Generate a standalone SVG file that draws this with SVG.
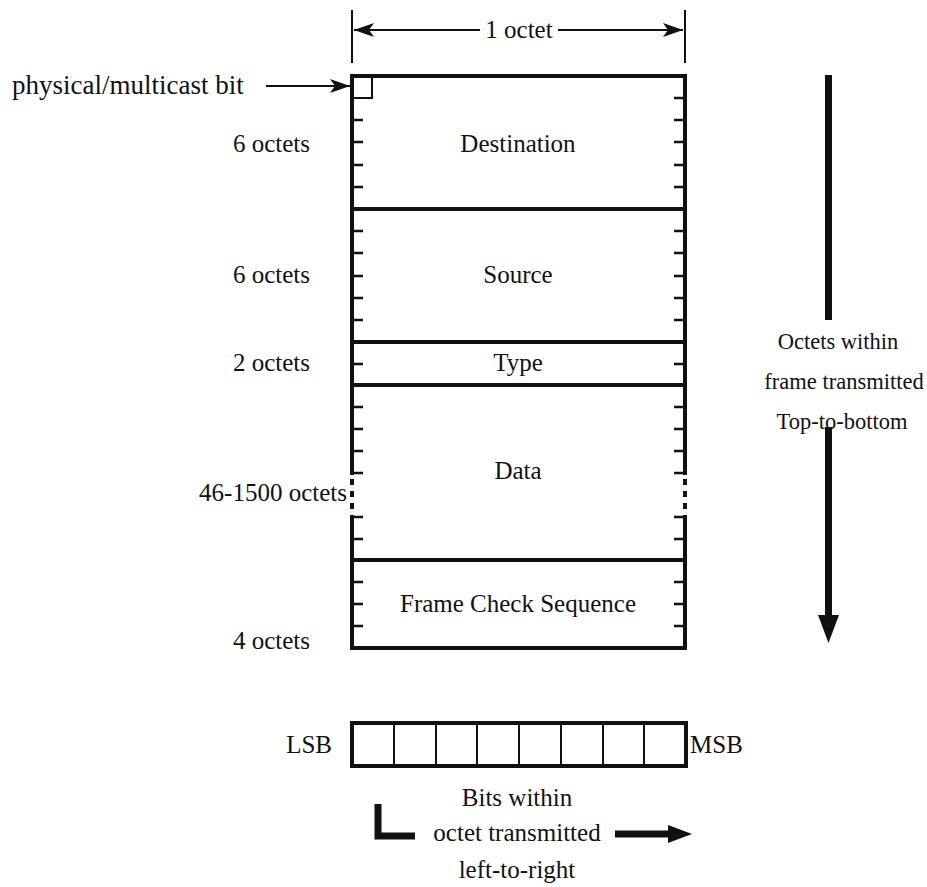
<svg xmlns="http://www.w3.org/2000/svg" width="927" height="887" viewBox="0 0 927 887">
<style>
text{font-family:"Liberation Serif","Times New Roman",serif;font-size:25px;fill:#111}
.side{font-size:22.5px}
.frame{fill:none;stroke:#111;stroke-width:4}
.sep{stroke:#111;stroke-width:4}
.tick{stroke:#111;stroke-width:2.5}
.thin{stroke:#111;stroke-width:2;fill:none}
.mid{text-anchor:middle}
.end{text-anchor:end}
</style>
<defs>
<marker id="ah" viewBox="0 0 20 14" refX="20" refY="7" markerWidth="20" markerHeight="14" markerUnits="userSpaceOnUse" orient="auto">
<path d="M0,0 L20,7 L0,14 L5,7 Z" fill="#111"/>
</marker>
</defs>
<rect width="927" height="887" fill="#fff"/>
<g id="dimension">
<line class="thin" x1="352" y1="10" x2="352" y2="63"/>
<line class="thin" x1="685" y1="10" x2="685" y2="63"/>
<line class="thin" x1="480" y1="30" x2="354" y2="30" marker-end="url(#ah)"/>
<line class="thin" x1="558" y1="30" x2="683" y2="30" marker-end="url(#ah)"/>
<text class="mid" x="519" y="38">1 octet</text>
</g>
<g id="connectors">
<line class="thin" x1="266" y1="86" x2="350" y2="86" marker-end="url(#ah)"/>
</g>
<g id="phys-label"><text x="12" y="94" style="font-size:27px">physical/multicast bit</text></g>
<g id="frame">
<rect class="frame" x="352" y="76" width="333" height="572"/>
</g>
<g id="destination">
<rect class="thin" x="352" y="76" width="20" height="22"/>
<path class="tick" d="M685,98h-11M352,120h11M685,120h-11M352,142h11M685,142h-11M352,165h11M685,165h-11M352,187h11M685,187h-11"/>
<text class="mid" x="518" y="152">Destination</text>
<text class="end" x="310" y="152">6 octets</text>
</g>
<g id="source">
<line class="sep" x1="352" y1="209" x2="685" y2="209"/>
<path class="tick" d="M352,231h11M685,231h-11M352,253h11M685,253h-11M352,276h11M685,276h-11M352,298h11M685,298h-11M352,320h11M685,320h-11"/>
<text class="mid" x="518" y="283">Source</text>
<text class="end" x="310" y="283">6 octets</text>
</g>
<g id="type">
<line class="sep" x1="352" y1="342" x2="685" y2="342"/>
<path class="tick" d="M352,364h11M685,364h-11"/>
<text class="mid" x="518" y="371">Type</text>
<text class="end" x="310" y="371">2 octets</text>
</g>
<g id="data">
<line class="sep" x1="352" y1="385" x2="685" y2="385"/>
<path class="tick" d="M352,407h11M685,407h-11M352,429h11M685,429h-11M352,451h11M685,451h-11M352,473h11M685,473h-11M352,517h11M685,517h-11M352,539h11M685,539h-11"/>
<rect x="349" y="475" width="6" height="40" fill="#fff"/>
<rect x="682" y="475" width="6" height="40" fill="#fff"/>
<path d="M352,479v6M352,491v6M352,503v6M685,479v6M685,491v6M685,503v6" stroke="#111" stroke-width="4"/>
<text class="mid" x="518" y="479">Data</text>
<text class="end" x="347" y="501">46-1500 octets</text>
</g>
<g id="fcs">
<line class="sep" x1="352" y1="560" x2="685" y2="560"/>
<path class="tick" d="M352,582h11M685,582h-11M352,604h11M685,604h-11M352,626h11M685,626h-11"/>
<text class="mid" x="518" y="612">Frame Check Sequence</text>
<text class="end" x="310" y="649">4 octets</text>
</g>
<g id="order-arrow">
<rect x="825" y="75" width="7" height="245" fill="#111"/>
<text class="mid side" x="838" y="349">Octets within</text>
<text class="mid side" x="844" y="389">frame transmitted</text>
<text class="mid side" x="842" y="429">Top-to-bottom</text>
<rect x="825" y="427" width="7" height="192" fill="#111"/>
<path d="M818,615 L839,615 L828.5,643 Z" fill="#111"/>
</g>
<g id="octet">
<rect class="frame" x="352" y="723" width="334" height="43"/>
<path class="thin" d="M394,723v43M436,723v43M477,723v43M519,723v43M561,723v43M603,723v43M644,723v43"/>
<text class="end" x="332" y="753">LSB</text>
<text x="690" y="753">MSB</text>
</g>
<g id="bit-order">
<path d="M378,804 V836 H415" fill="none" stroke="#111" stroke-width="7"/>
<text class="mid" x="517" y="806">Bits within</text>
<text class="mid" x="517" y="841">octet transmitted</text>
<text class="mid" x="517" y="878">left-to-right</text>
<line x1="615" y1="834" x2="672" y2="834" stroke="#111" stroke-width="7"/>
<path d="M668,825 L692,834 L668,843 Z" fill="#111"/>
</g>
</svg>
